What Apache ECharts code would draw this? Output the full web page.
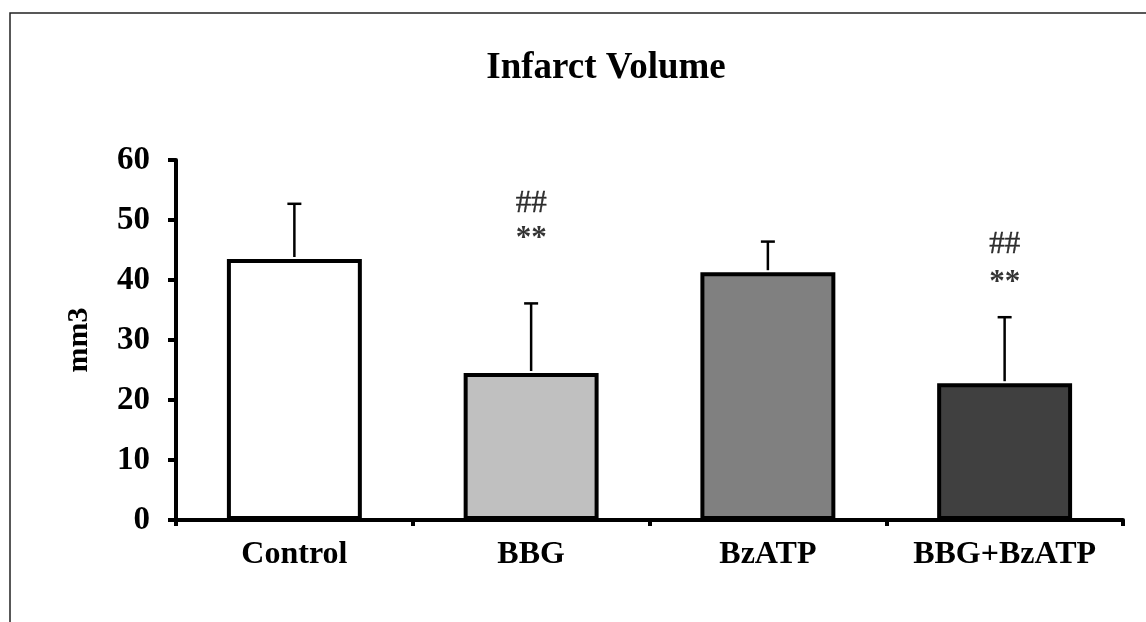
<!DOCTYPE html>
<html><head><meta charset="utf-8">
<script src="https://cdn.jsdelivr.net/npm/echarts@6/dist/echarts.min.js"></script>
<style>html,body{margin:0;padding:0;background:#fff}#c{width:1146px;height:622px}</style>
</head><body><div id="c"></div>
<script>
var categories = ['Control', 'BBG', 'BzATP', 'BBG+BzATP'];
var means = [43.5, 24.5, 41.3, 22.8];
var errTop = [52.7, 36.1, 46.4, 33.8];
var barColors = ['#ffffff', '#c0c0c0', '#808080', '#404040'];
var hashMarks = ['', '##', '', '##'];
var hashY = [null, 52.7, null, 45.9];
var starMarks = ['', '**', '', '**'];
var starY = [null, 46.9, null, 39.5];
var yTicks = [0, 10, 20, 30, 40, 50, 60];

var chart = echarts.init(document.getElementById('c'));
var serif = '"Liberation Serif","DejaVu Serif",serif';
chart.setOption({
  animation: false,
  backgroundColor: '#fff',
  title: {text: 'Infarct Volume', left: 601, top: 45, textAlign: 'center',
    textStyle: {fontFamily: serif, fontWeight: 'bold', fontSize: 37, color: '#000'}},
  graphic: [{type: 'rect', shape: {x: 10, y: 13, width: 1160, height: 640},
    style: {fill: 'none', stroke: '#222', lineWidth: 1.5}, silent: true}],
  grid: {left: 176, right: 23, top: 160, bottom: 102},
  xAxis: {type: 'category', data: categories,
    axisLine: {lineStyle: {color: '#000', width: 4}},
    axisTick: {show: true, interval: 0, length: 6, lineStyle: {color: '#000', width: 4}},
    axisLabel: {interval: 0, fontFamily: serif, fontWeight: 'bold', fontSize: 32, color: '#000', margin: 19}},
  yAxis: {type: 'value', min: 0, max: 60, interval: 10,
    name: 'mm3', nameLocation: 'middle', nameGap: 82, nameRotate: 90,
    nameTextStyle: {fontFamily: serif, fontWeight: 'bold', fontSize: 30, color: '#000'},
    axisLine: {show: true, lineStyle: {color: '#000', width: 4}},
    axisTick: {show: true, length: 8, lineStyle: {color: '#000', width: 4}},
    splitLine: {show: false},
    axisLabel: {fontFamily: serif, fontWeight: 'bold', fontSize: 33, color: '#000', margin: 26,
      formatter: function (v) { return yTicks.indexOf(v) >= 0 ? String(v) : ''; }}},
  series: [
    {type: 'bar', barWidth: '57%',
      data: means.map(function (v, i) {
        return {value: v, itemStyle: {color: barColors[i], borderColor: '#000', borderWidth: 4}};
      }), z: 2},
    {type: 'custom', z: 3,
      data: means.map(function (v, i) { return [i, v, errTop[i]]; }),
      renderItem: function (params, api) {
        var lo = api.coord([api.value(0), api.value(1)]);
        var hi = api.coord([api.value(0), api.value(2)]);
        var cap = 7;
        var st = {stroke: '#000', lineWidth: 2.5};
        return {type: 'group', children: [
          {type: 'line', shape: {x1: lo[0], y1: lo[1] - 2, x2: hi[0], y2: hi[1]}, style: st},
          {type: 'line', shape: {x1: hi[0] - cap, y1: hi[1], x2: hi[0] + cap, y2: hi[1]}, style: st}
        ]};
      }},
    {type: 'scatter', symbolSize: 0,
      data: hashY.map(function (v, i) { return v == null ? null : {value: [i, v], name: hashMarks[i]}; }).filter(Boolean),
      label: {show: true, position: 'inside', formatter: '{b}',
        fontFamily: serif, fontSize: 31, color: '#000', textBorderColor: '#000', textBorderWidth: 0.4}},
    {type: 'scatter', symbolSize: 0,
      data: starY.map(function (v, i) { return v == null ? null : {value: [i, v], name: starMarks[i]}; }).filter(Boolean),
      label: {show: true, position: 'inside', formatter: '{b}',
        fontFamily: serif, fontWeight: 'bold', fontSize: 31, color: '#000'}}
  ]
});
</script></body></html>
